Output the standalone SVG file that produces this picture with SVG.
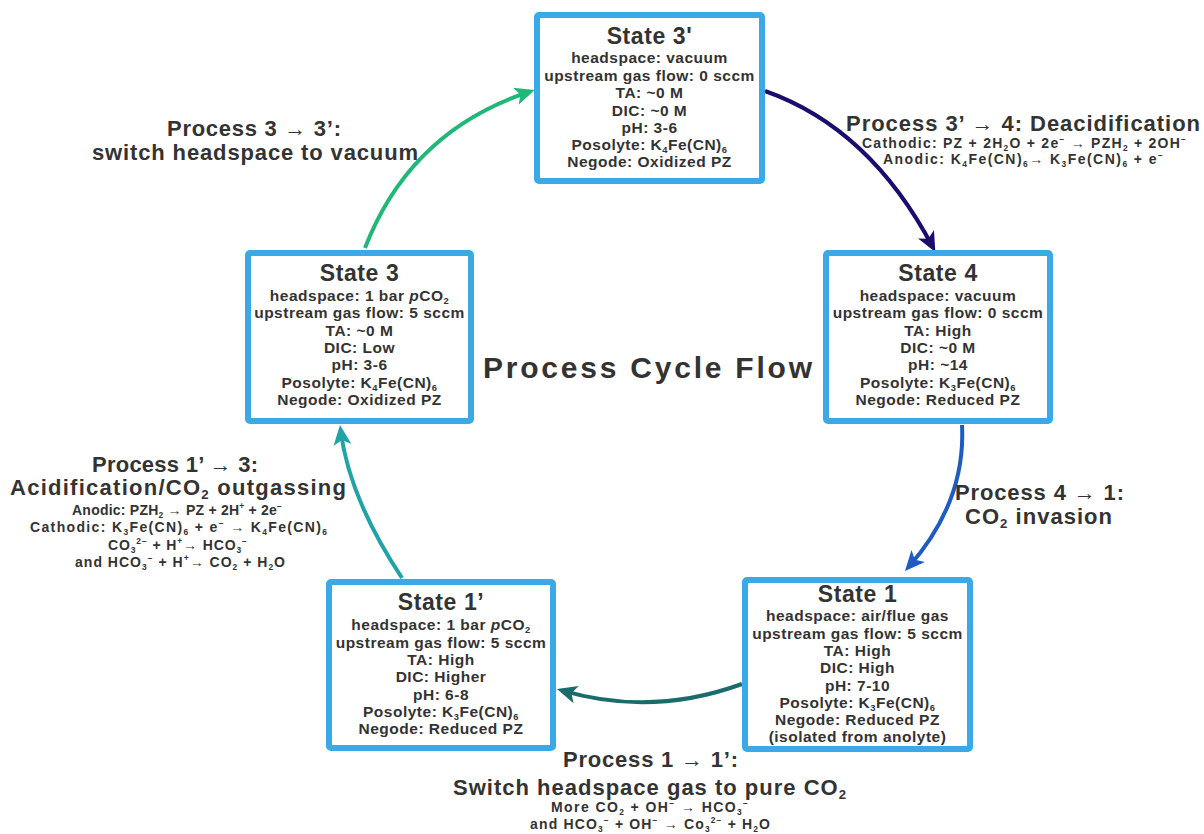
<svg xmlns="http://www.w3.org/2000/svg" width="1204" height="834" viewBox="0 0 1204 834">
  <style>
    text { font-family: "Liberation Sans", Arial, sans-serif; font-weight: bold; fill: #333333; }
    .box { fill: #ffffff; stroke: #3aa9e6; stroke-width: 6; }
    .title { font-size: 23px; letter-spacing: 0.6px; text-anchor: middle; }
    .body { font-size: 15.5px; letter-spacing: 0.5px; text-anchor: middle; }
    .center { font-size: 30px; text-anchor: middle; }
    .pm { font-size: 22px; }
    .eq { font-size: 14px; }
    .sub { font-size: 60%; baseline-shift: -0.3em; }
    .sup { font-size: 60%; baseline-shift: 0.7em; }
    .arrow { fill: none; stroke-width: 4; }
  </style>
  <defs>
    <marker id="ah-green" markerUnits="userSpaceOnUse" markerWidth="20" markerHeight="18" viewBox="0 0 20 18" refX="15" refY="9" orient="auto">
      <path d="M0,0 L20,9 L0,18 L5,9 z" fill="#1fb878"/>
    </marker>
    <marker id="ah-navy" markerUnits="userSpaceOnUse" markerWidth="20" markerHeight="18" viewBox="0 0 20 18" refX="15" refY="9" orient="auto">
      <path d="M0,0 L20,9 L0,18 L5,9 z" fill="#1b0d6e"/>
    </marker>
    <marker id="ah-blue" markerUnits="userSpaceOnUse" markerWidth="20" markerHeight="18" viewBox="0 0 20 18" refX="15" refY="9" orient="auto">
      <path d="M0,0 L20,9 L0,18 L5,9 z" fill="#1f5bc4"/>
    </marker>
    <marker id="ah-dteal" markerUnits="userSpaceOnUse" markerWidth="20" markerHeight="18" viewBox="0 0 20 18" refX="15" refY="9" orient="auto">
      <path d="M0,0 L20,9 L0,18 L5,9 z" fill="#1a6b6a"/>
    </marker>
    <marker id="ah-teal" markerUnits="userSpaceOnUse" markerWidth="20" markerHeight="18" viewBox="0 0 20 18" refX="15" refY="9" orient="auto">
      <path d="M0,0 L20,9 L0,18 L5,9 z" fill="#20a3a7"/>
    </marker>
  </defs>

  <rect width="1204" height="834" fill="#ffffff"/>

  <!-- cycle connectors -->
  <g id="connectors">
    <path id="c-3-3p" class="arrow" stroke="#1fb878" d="M365,248 Q410,131 530,91.5" marker-end="url(#ah-green)"/>
    <path id="c-3p-4" class="arrow" stroke="#1b0d6e" d="M765,91 Q870,128 933,247.5" marker-end="url(#ah-navy)"/>
    <path id="c-4-1" class="arrow" stroke="#1f5bc4" d="M962,425 Q966,502 908.3,567.3" marker-end="url(#ah-blue)"/>
    <path id="c-1-1p" class="arrow" stroke="#1a6b6a" d="M742,684 Q651,717 561.8,690.4" marker-end="url(#ah-dteal)"/>
    <path id="c-1p-3" class="arrow" stroke="#20a3a7" d="M402,578 Q349,498 340.6,430" marker-end="url(#ah-teal)"/>
  </g>

  <!-- State 3' -->
  <g id="state-3p">
    <rect class="box" x="537" y="15" width="225" height="166" rx="2"/>
    <text class="title" x="649.5" y="44">State 3'</text>
    <text class="body" x="649.5" y="63">headspace: vacuum</text>
    <text class="body" x="649.5" y="80.5">upstream gas flow: 0 sccm</text>
    <text class="body" x="649.5" y="98">TA: ~0 M</text>
    <text class="body" x="649.5" y="115.5">DIC: ~0 M</text>
    <text class="body" x="649.5" y="133">pH: 3-6</text>
    <text class="body" x="649.5" y="150">Posolyte: K<tspan class="sub">4</tspan>Fe(CN)<tspan class="sub">6</tspan></text>
    <text class="body" x="649.5" y="167">Negode: Oxidized PZ</text>
  </g>

  <!-- State 3 -->
  <g id="state-3">
    <rect class="box" x="248" y="253" width="223" height="168" rx="2"/>
    <text class="title" x="359.5" y="281">State 3</text>
    <text class="body" x="359.5" y="301">headspace: 1 bar <tspan font-style="italic">p</tspan>CO<tspan class="sub">2</tspan></text>
    <text class="body" x="359.5" y="318.3">upstream gas flow: 5 sccm</text>
    <text class="body" x="359.5" y="335.6">TA: ~0 M</text>
    <text class="body" x="359.5" y="353">DIC: Low</text>
    <text class="body" x="359.5" y="370.3">pH: 3-6</text>
    <text class="body" x="359.5" y="387.6">Posolyte: K<tspan class="sub">4</tspan>Fe(CN)<tspan class="sub">6</tspan></text>
    <text class="body" x="359.5" y="405">Negode: Oxidized PZ</text>
  </g>

  <!-- State 4 -->
  <g id="state-4">
    <rect class="box" x="826" y="253" width="224" height="168" rx="2"/>
    <text class="title" x="938" y="281">State 4</text>
    <text class="body" x="938" y="301">headspace: vacuum</text>
    <text class="body" x="938" y="318.3">upstream gas flow: 0 sccm</text>
    <text class="body" x="938" y="335.6">TA: High</text>
    <text class="body" x="938" y="353">DIC: ~0 M</text>
    <text class="body" x="938" y="370.3">pH: ~14</text>
    <text class="body" x="938" y="387.6">Posolyte: K<tspan class="sub">3</tspan>Fe(CN)<tspan class="sub">6</tspan></text>
    <text class="body" x="938" y="405">Negode: Reduced PZ</text>
  </g>

  <!-- State 1 -->
  <g id="state-1">
    <rect class="box" x="745" y="580" width="225" height="169" rx="2"/>
    <text class="title" x="857.5" y="602">State 1</text>
    <text class="body" x="857.5" y="621">headspace: air/flue gas</text>
    <text class="body" x="857.5" y="638.5">upstream gas flow: 5 sccm</text>
    <text class="body" x="857.5" y="656">TA: High</text>
    <text class="body" x="857.5" y="673">DIC: High</text>
    <text class="body" x="857.5" y="690.5">pH: 7-10</text>
    <text class="body" x="857.5" y="708">Posolyte: K<tspan class="sub">3</tspan>Fe(CN)<tspan class="sub">6</tspan></text>
    <text class="body" x="857.5" y="725">Negode: Reduced PZ</text>
    <text class="body" x="857.5" y="742">(isolated from anolyte)</text>
  </g>

  <!-- State 1' -->
  <g id="state-1p">
    <rect class="box" x="329" y="582" width="224" height="166" rx="2"/>
    <text class="title" x="441" y="610">State 1’</text>
    <text class="body" x="441" y="630">headspace: 1 bar <tspan font-style="italic">p</tspan>CO<tspan class="sub">2</tspan></text>
    <text class="body" x="441" y="647.5">upstream gas flow: 5 sccm</text>
    <text class="body" x="441" y="665">TA: High</text>
    <text class="body" x="441" y="682">DIC: Higher</text>
    <text class="body" x="441" y="699.5">pH: 6-8</text>
    <text class="body" x="441" y="717">Posolyte: K<tspan class="sub">3</tspan>Fe(CN)<tspan class="sub">6</tspan></text>
    <text class="body" x="441" y="734">Negode: Reduced PZ</text>
  </g>

  <!-- centre title -->
  <text class="center" x="647.5" y="378" textLength="329">Process Cycle Flow</text>

  <!-- Process 3 -> 3' -->
  <g id="label-3-3p">
    <text class="pm" x="167" y="136" textLength="174">Process 3 → 3’:</text>
    <text class="pm" x="92" y="160" textLength="326">switch headspace to vacuum</text>
  </g>

  <!-- Process 3' -> 4 -->
  <g id="label-3p-4">
    <text class="pm" x="846" y="131" textLength="354">Process 3’ → 4: Deacidification</text>
    <text class="eq" x="862" y="148" textLength="324">Cathodic: PZ + 2H<tspan class="sub">2</tspan>O + 2e<tspan class="sup">−</tspan> → PZH<tspan class="sub">2</tspan> + 2OH<tspan class="sup">−</tspan></text>
    <text class="eq" x="883" y="164" textLength="280">Anodic: K<tspan class="sub">4</tspan>Fe(CN)<tspan class="sub">6</tspan>→ K<tspan class="sub">3</tspan>Fe(CN)<tspan class="sub">6</tspan> + e<tspan class="sup">−</tspan></text>
  </g>

  <!-- Process 4 -> 1 -->
  <g id="label-4-1">
    <text class="pm" x="955" y="500" textLength="169">Process 4 → 1:</text>
    <text class="pm" x="965" y="524" textLength="147">CO<tspan class="sub">2</tspan> invasion</text>
  </g>

  <!-- Process 1 -> 1' -->
  <g id="label-1-1p">
    <text class="pm" x="563" y="767" textLength="175">Process 1 → 1’:</text>
    <text class="pm" x="453" y="795" textLength="393">Switch headspace gas to pure CO<tspan class="sub">2</tspan></text>
    <text class="eq" x="551" y="812" textLength="197">More CO<tspan class="sub">2</tspan> + OH<tspan class="sup">−</tspan> → HCO<tspan class="sub">3</tspan><tspan class="sup">−</tspan></text>
    <text class="eq" x="530" y="829" textLength="240">and HCO<tspan class="sub">3</tspan><tspan class="sup">−</tspan> + OH<tspan class="sup">−</tspan> → Co<tspan class="sub">3</tspan><tspan class="sup">2−</tspan> + H<tspan class="sub">2</tspan>O</text>
  </g>

  <!-- Process 1' -> 3 -->
  <g id="label-1p-3">
    <text class="pm" x="92" y="472" textLength="166">Process 1’ → 3:</text>
    <text class="pm" x="10" y="495" textLength="336">Acidification/CO<tspan class="sub">2</tspan> outgassing</text>
    <text class="eq" x="72" y="515" textLength="210">Anodic: PZH<tspan class="sub">2</tspan> → PZ + 2H<tspan class="sup">+</tspan> + 2e<tspan class="sup">−</tspan></text>
    <text class="eq" x="30" y="532" textLength="297">Cathodic: K<tspan class="sub">3</tspan>Fe(CN)<tspan class="sub">6</tspan> + e<tspan class="sup">−</tspan> → K<tspan class="sub">4</tspan>Fe(CN)<tspan class="sub">6</tspan></text>
    <text class="eq" x="108" y="550" textLength="139">CO<tspan class="sub">3</tspan><tspan class="sup">2−</tspan> + H<tspan class="sup">+</tspan>→ HCO<tspan class="sub">3</tspan><tspan class="sup">−</tspan></text>
    <text class="eq" x="75" y="567" textLength="210">and HCO<tspan class="sub">3</tspan><tspan class="sup">−</tspan> + H<tspan class="sup">+</tspan>→ CO<tspan class="sub">2</tspan> + H<tspan class="sub">2</tspan>O</text>
  </g>
</svg>
